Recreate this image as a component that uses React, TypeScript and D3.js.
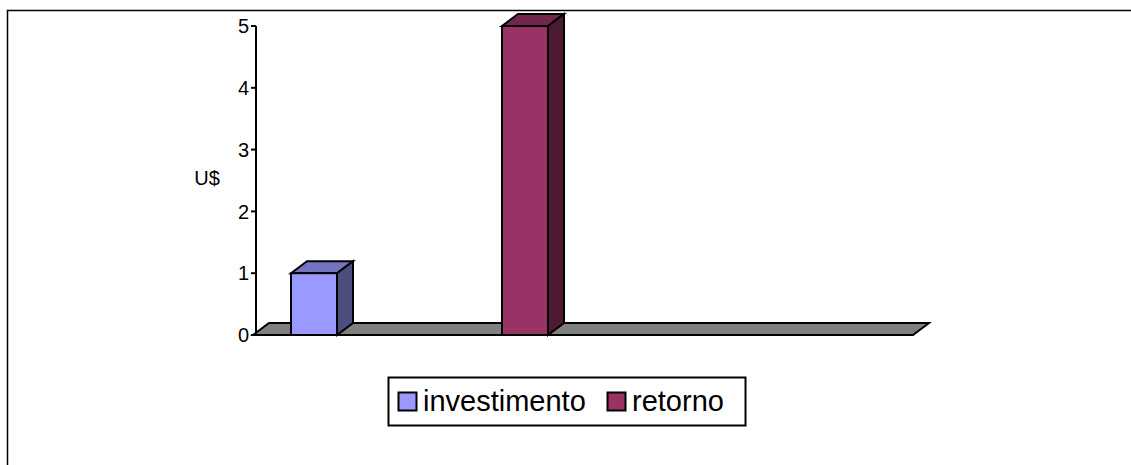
import React from "react";
import * as d3 from "d3";

const series = ["investimento", "retorno"];
const values = [1, 5];
const yTicks = [0, 1, 2, 3, 4, 5];
const frontColors = ["#9999FF", "#993366"];
const topColors = ["#7373BF", "#73264D"];
const sideColors = ["#4D4D80", "#4D1A33"];
const yLabel = "U$";

export default function App() {
  const W = 1131, H = 465;
  const y = d3.scaleLinear().domain([0, 5]).range([335, 26]);
  const xLeft = 256, xRight = 913;
  const dx = 16, dy = 12;
  const x = d3.scaleLinear().domain([0, 1]).range([291, 502]);
  const bw = 46;
  const y0 = y(0);
  const pts = (a: number[][]) => a.map((p) => p.join(",")).join(" ");
  const font = "Liberation Sans, Arial, sans-serif";
  const sw = 2;

  return (
    <svg width={W} height={H} style={{ position: "absolute", left: 0, top: 0 }}>
      <rect x={0} y={0} width={W} height={H} fill="#fff" />
      <rect x={7.5} y={10.5} width={1300} height={600} fill="none" stroke="#000" strokeWidth={1.5} />
      {/* floor */}
      <polygon
        points={pts([[xLeft - 3, y0], [xLeft + dx - 3, y0 - dy], [xRight + dx, y0 - dy], [xRight, y0]])}
        fill="#808080" stroke="#000" strokeWidth={sw} strokeLinejoin="miter"
      />
      {/* axis */}
      <line x1={xLeft} x2={xLeft} y1={y(5)} y2={y0} stroke="#000" strokeWidth={sw} />
      {yTicks.map((t) => (
        <g key={t}>
          <line x1={xLeft - 5} x2={xLeft} y1={y(t)} y2={y(t)} stroke="#000" strokeWidth={sw} />
          <text x={xLeft - 7} y={y(t)} dy="0.36em" textAnchor="end" fontFamily={font} fontSize={20} fill="#000">
            {t}
          </text>
        </g>
      ))}
      <text x={207} y={178} dy="0.36em" textAnchor="middle" fontFamily={font} fontSize={20} fill="#000">
        {yLabel}
      </text>
      {/* bars */}
      {values.map((v, i) => {
        const x0 = x(i);
        const yt = y(v);
        return (
          <g key={i} stroke="#000" strokeWidth={sw} strokeLinejoin="miter">
            <polygon points={pts([[x0, yt], [x0 + dx, yt - dy], [x0 + bw + dx, yt - dy], [x0 + bw, yt]])} fill={topColors[i]} />
            <polygon points={pts([[x0 + bw, yt], [x0 + bw + dx, yt - dy], [x0 + bw + dx, y0 - dy], [x0 + bw, y0]])} fill={sideColors[i]} />
            <rect x={x0} y={yt} width={bw} height={y0 - yt} fill={frontColors[i]} />
          </g>
        );
      })}
      {/* legend */}
      <rect x={388.5} y={377.5} width={357} height={48} fill="#fff" stroke="#000" strokeWidth={sw} />
      {series.map((s, i) => {
        const sx = [398, 607][i];
        return (
          <g key={s}>
            <rect x={sx + 0.5} y={392.5} width={18} height={18} fill={frontColors[i]} stroke="#000" strokeWidth={sw} />
            <text x={sx + 25} y={411} fontFamily={font} fontSize={29} fill="#000">
              {s}
            </text>
          </g>
        );
      })}
    </svg>
  );
}
